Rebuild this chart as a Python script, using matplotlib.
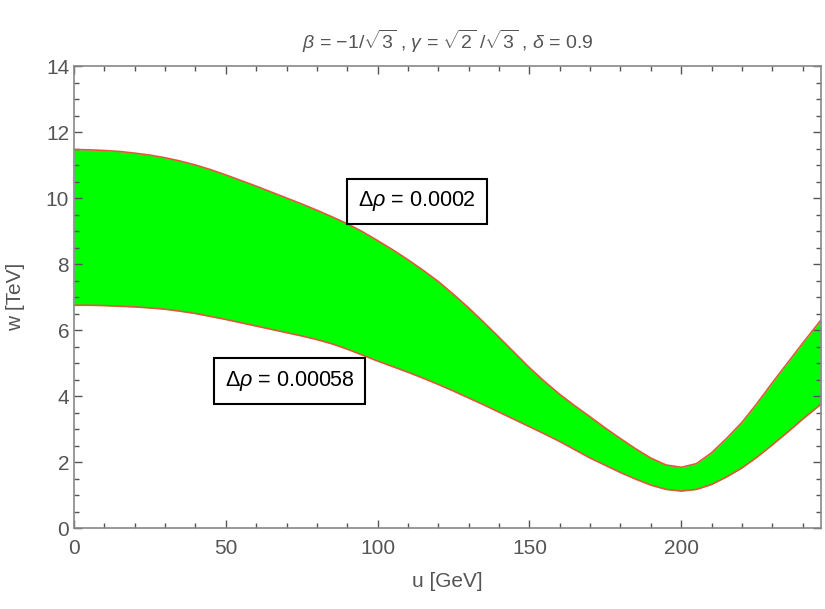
import matplotlib
matplotlib.use("Agg")
import matplotlib.pyplot as plt
import numpy as np

plt.rcParams['font.family'] = ['Liberation Sans', 'DejaVu Sans']
plt.rcParams['mathtext.fontset'] = 'custom'
plt.rcParams['mathtext.rm'] = 'Liberation Sans'
plt.rcParams['mathtext.it'] = 'Liberation Sans:italic'
plt.rcParams['mathtext.cal'] = 'Liberation Sans:italic'

# u [GeV] grid for the two contour lines
u = [0, 5, 10, 15, 20, 25, 30, 35, 40, 45, 50, 55, 60, 65, 70, 75, 80, 85,
     90, 95, 100, 105, 110, 115, 120, 125, 130, 135, 140, 145, 150, 155, 160,
     165, 170, 175, 180, 185, 190, 195, 200, 205, 210, 215, 220, 225, 230,
     235, 240, 246]
# delta rho = 0.0002 (upper edge)
w_upper = [11.47, 11.46, 11.44, 11.41, 11.36, 11.30, 11.22, 11.12, 11.00,
           10.86, 10.70, 10.53, 10.36, 10.18, 10.00, 9.82, 9.63, 9.43, 9.22,
           8.98, 8.71, 8.43, 8.13, 7.81, 7.47, 7.08, 6.67, 6.23, 5.78, 5.32,
           4.86, 4.44, 4.05, 3.70, 3.37, 3.03, 2.71, 2.40, 2.12, 1.91, 1.84,
           1.95, 2.28, 2.72, 3.20, 3.78, 4.40, 5.00, 5.60, 6.30]
# delta rho = 0.00058 (lower edge)
w_lower = [6.75, 6.75, 6.74, 6.72, 6.70, 6.67, 6.63, 6.57, 6.50, 6.41, 6.32,
           6.22, 6.12, 6.02, 5.92, 5.82, 5.71, 5.58, 5.42, 5.24, 5.06, 4.89,
           4.72, 4.54, 4.35, 4.15, 3.94, 3.73, 3.51, 3.29, 3.07, 2.85, 2.62,
           2.37, 2.12, 1.90, 1.68, 1.48, 1.30, 1.17, 1.12, 1.17, 1.32, 1.55,
           1.82, 2.15, 2.52, 2.90, 3.30, 3.75]

labels = [r"$\Delta\rho$ = 0.0002", r"$\Delta\rho$ = 0.00058"]
label_pos = [(113, 9.9), (71, 4.45)]

gray = "#555555"
edge = "#E0583C"

fig = plt.figure(figsize=(8.25, 6.09), dpi=100)
ax = fig.add_axes([0.0897, 0.133, 0.9053, 0.7586])

ax.fill_between(u, w_lower, w_upper, color="#00FF00", lw=0)
ax.plot(u, w_upper, color=edge, lw=1.2)
ax.plot(u, w_lower, color=edge, lw=1.2)

for txt, (x, y) in zip(labels, label_pos):
    ax.text(x, y, txt, ha="center", va="center", fontsize=15.5, color="black",
            bbox=dict(boxstyle="square,pad=0.5", fc="white", ec="black", lw=1.5))

ax.set_xlim(0, 246)
ax.set_ylim(0, 14)
ax.set_xticks([0, 50, 100, 150, 200])
ax.set_xticks(np.arange(0, 246, 10), minor=True)
ax.set_yticks(np.arange(0, 15, 2))
ax.set_yticks(np.arange(0, 14.1, 0.5), minor=True)

ax.tick_params(which="both", direction="in", top=True, right=True,
               colors=gray, labelcolor=gray, labelsize=15, width=1)
ax.tick_params(which="major", length=6)
ax.tick_params(which="minor", length=3.5)
ax.tick_params(axis="x", pad=8)
for s in ax.spines.values():
    s.set_color("#888888")
    s.set_linewidth(1.2)

ax.set_xlabel("u [GeV]", fontsize=15, color=gray, labelpad=10)
ax.set_ylabel("w [TeV]", fontsize=15, color=gray, labelpad=15)
ax.set_title(r"$\beta$ = $-$1/$\sqrt{3}$ , $\gamma$ = $\sqrt{2}$ /$\sqrt{3}$ , $\delta$ = 0.9",
             fontsize=14, color=gray, pad=12)

fig.savefig("out.png", dpi=100)
